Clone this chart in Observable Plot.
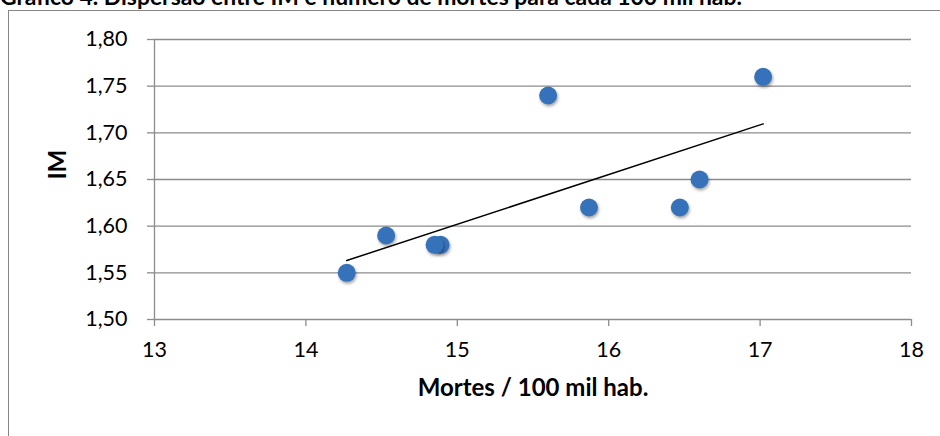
<!DOCTYPE html>
<html><head><meta charset="utf-8">
<script src="https://cdn.jsdelivr.net/npm/d3@7"></script>
<script src="https://cdn.jsdelivr.net/npm/@observablehq/plot@0.6"></script>
<style>
body{margin:0;background:#fff;font-family:Lato,"Open Sans",sans-serif;}
#wrap{position:relative;width:940px;height:436px;overflow:hidden;}
#title{position:absolute;left:0;top:-17px;font-weight:bold;font-size:22.9px;line-height:26px;white-space:nowrap;color:#000;}
#frame{position:absolute;left:8px;top:10px;width:1000px;height:1000px;border:1.5px solid #868686;}
#chart{position:absolute;left:0;top:0;}
#chart svg g[aria-label="dot"] circle{filter:drop-shadow(1px 2px 1.5px rgba(0,0,0,0.35));}
</style></head>
<body><div id="wrap"><div id="title">Gráfico 4. Dispersão entre IM e número de mortes para cada 100 mil hab.</div><div id="frame"></div><div id="chart"></div></div>
<script>
const mortes = [14.27, 14.53, 14.89, 14.85, 15.60, 15.87, 16.47, 16.60, 17.02];
const im = [1.55, 1.59, 1.58, 1.58, 1.74, 1.62, 1.62, 1.65, 1.76];
const xTicks = [13, 14, 15, 16, 17, 18];
const yTicks = [1.50, 1.55, 1.60, 1.65, 1.70, 1.75, 1.80];
const xLabel = "Mortes / 100 mil hab.";
const yLabel = "IM";

const data = mortes.map((m, i) => ({mortes: m, im: im[i]}));
const fmt = d => d.toFixed(2).replace(".", ",");
const gridColor = "#8c8c8c";

const plot = Plot.plot({
  width: 940, height: 436,
  marginLeft: 154, marginRight: 29, marginTop: 39, marginBottom: 117,
  style: {fontFamily: "Lato, 'Open Sans', sans-serif", fontSize: "21px", color: "#000", background: "transparent", overflow: "visible"},
  x: {domain: [13, 18]},
  y: {domain: [1.5, 1.8]},
  marks: [
    Plot.gridY(yTicks, {stroke: gridColor, strokeOpacity: 1, strokeWidth: 1.3}),
    Plot.ruleX([13], {stroke: gridColor, strokeWidth: 1.3}),
    Plot.axisY(yTicks, {tickFormat: fmt, tickSize: 7, tickPadding: 20, stroke: gridColor, strokeWidth: 1.3, fontSize: 21.5, label: null}),
    Plot.axisX(xTicks, {tickSize: 7, tickPadding: 15, stroke: gridColor, strokeWidth: 1.3, fontSize: 21.5, label: null, tickFormat: d => String(d)}),
    Plot.dot(data, {x: "mortes", y: "im", r: 9, fill: "#3672ba"}),
    Plot.linearRegressionY(data, {x: "mortes", y: "im", ci: 0, stroke: "#000", strokeWidth: 1.5}),
    Plot.text([xLabel], {frameAnchor: "bottom", dy: 76, fontWeight: "bold", fontSize: 24, fill: "#000"}),
    Plot.text([yLabel], {frameAnchor: "left", dx: -96, rotate: -90, fontWeight: "bold", fontSize: 24, fill: "#000"})
  ]
});
document.getElementById("chart").appendChild(plot);
</script>
</body></html>
